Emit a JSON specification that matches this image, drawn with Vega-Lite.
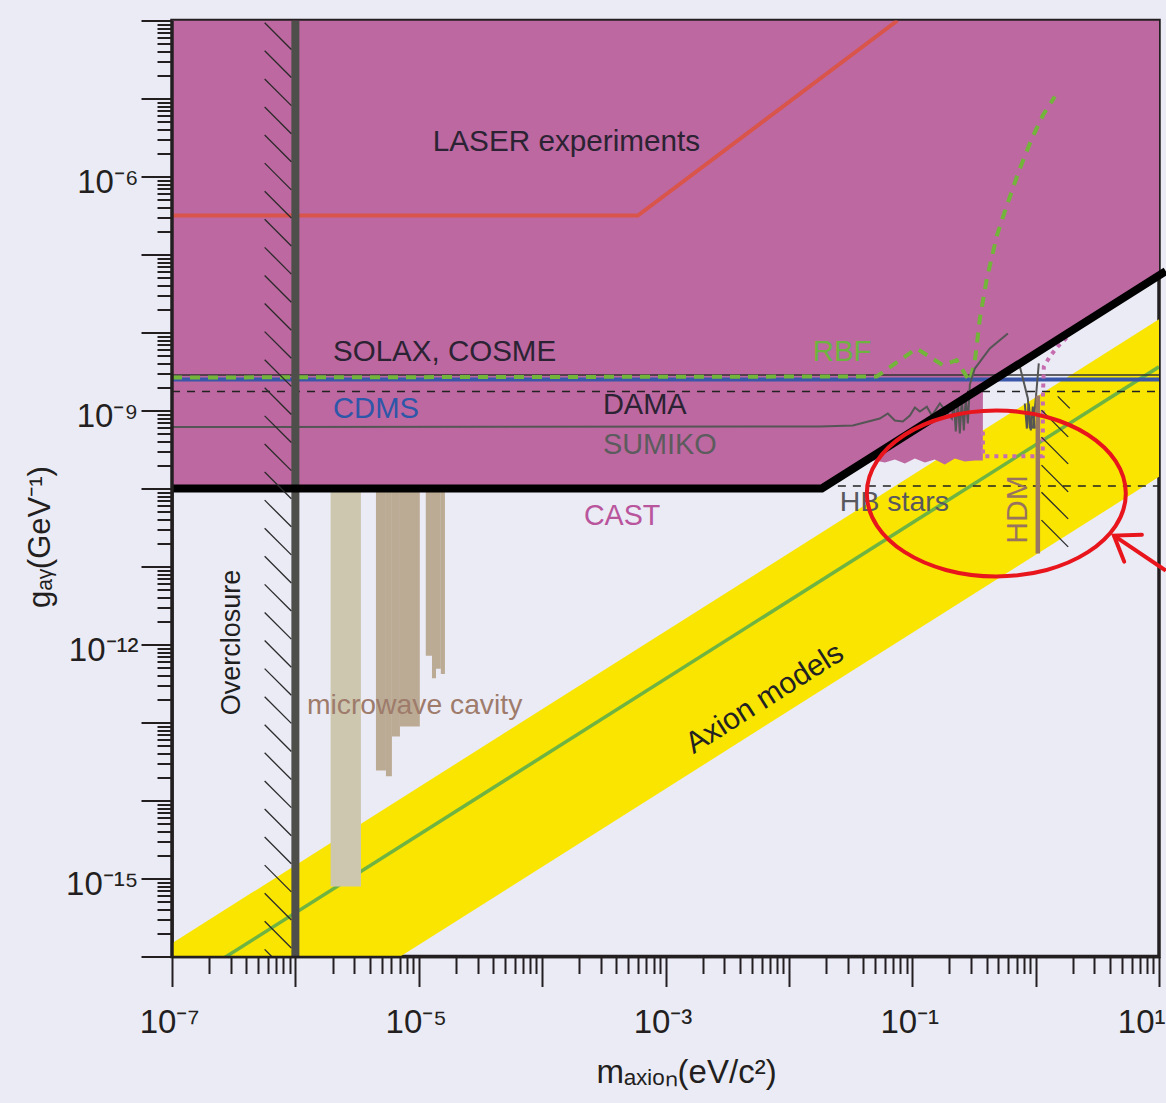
{
"$schema": "https://vega.github.io/schema/vega-lite/v6.json",
"width": 987, "height": 936,
"autosize": "none",
"padding": {"left": 172, "top": 20.5, "right": 7, "bottom": 146.5},
"background": "#ebebf6",
"config": {"view": {"stroke": "#231f20", "strokeWidth": 3.5, "fill": null}},
"resolve": {"axis": {"x": "independent", "y": "independent"}},
"layer": [
{"data": {"values": [{"m": 1e-7, "g": 1.48e-16, "g2": 1.41e-18}, {"m": 10, "g": 1.48e-8, "g2": 1.41e-10}]},
 "mark": {"type": "area", "color": "#f9e500", "clip": true, "opacity": 1},
 "encoding": {
  "x": {"field": "m", "type": "quantitative", "scale": {"type": "log", "domain": [1e-7, 10], "nice": false},
   "axis": {"orient": "bottom", "grid": false, "zindex": 1,
    "values": [1e-7,1e-6,1e-5,1e-4,0.001,0.01,0.1,1,10],
    "labelExpr": "datum.value == 1e-7 ? '10⁻⁷' : datum.value == 1e-5 ? '10⁻⁵' : datum.value == 0.001 ? '10⁻³' : datum.value == 0.1 ? '10⁻¹' : datum.value == 10 ? '10¹' : ''",
    "labelOverlap": false, "labelFlush": false, "labelBound": false,
    "labelAlign": {"condition": {"test": "datum.value == 10", "value": "right"}, "value": "center"},
    "labelOffset": {"condition": {"test": "datum.value == 10", "value": 6}, "value": -3},
    "tickSize": 30, "tickWidth": 2, "tickColor": "#231f20", "domain": true, "domainColor": "#231f20", "domainWidth": 2.5,
    "labelFont": "Liberation Sans", "labelFontSize": 33, "labelColor": "#231f20",
    "labelPadding": 20,
    "title": "mₐₓᵢₒₙ(eV/c²)", "titleFont": "Liberation Sans", "titleFontSize": 33,
    "titleFontWeight": "normal", "titleColor": "#231f20", "titleX": 514, "titleY": 116, "titleBaseline": "middle"}},
  "y": {"field": "g", "type": "quantitative", "scale": {"type": "log", "domain": [1e-16, 1e-4], "nice": false},
   "axis": {"orient": "left", "grid": false, "zindex": 1,
    "values": [1e-16,1e-15,1e-14,1e-13,1e-12,1e-11,1e-10,1e-9,1e-8,1e-7,1e-6,1e-5,1e-4],
    "labelExpr": "datum.value == 1e-6 ? '10⁻⁶' : datum.value == 1e-9 ? '10⁻⁹' : datum.value == 1e-12 ? '10⁻¹²' : datum.value == 1e-15 ? '10⁻¹⁵' : ''",
    "labelOverlap": false, "labelFlush": false, "labelBound": false,
    "tickSize": 31, "tickWidth": 2, "tickColor": "#231f20", "domain": true, "domainColor": "#231f20", "domainWidth": 2.5,
    "labelFont": "Liberation Sans", "labelFontSize": 33, "labelColor": "#231f20",
    "labelPadding": 3, "labelOffset": 6,
    "title": "gₐᵧ(GeV⁻¹)", "titleFont": "Liberation Sans", "titleFontSize": 31,
    "titleFontWeight": "normal", "titleColor": "#231f20", "titleX": -132, "titleY": 516, "titleBaseline": "middle", "titleAngle": 270}},
  "y2": {"field": "g2"}
 }},
{"data": {"values": [{"m": 1e-7, "g": 3.63e-17}, {"m": 10, "g": 3.63e-9}]},
 "mark": {"type": "line", "color": "#6fb343", "strokeWidth": 3.5, "clip": true},
 "encoding": {
  "x": {"field": "m", "type": "quantitative", "scale": {"type": "log"},
   "axis": {"orient": "bottom", "grid": false, "zindex": 1, "labels": false, "domain": false, "title": null,
    "values": [2e-7,3e-7,4e-7,5e-7,6e-7,7e-7,8e-7,9e-7,2e-6,3e-6,4e-6,5e-6,6e-6,7e-6,8e-6,9e-6,2e-5,3e-5,4e-5,5e-5,6e-5,7e-5,8e-5,9e-5,2e-4,3e-4,4e-4,5e-4,6e-4,7e-4,8e-4,9e-4,0.002,0.003,0.004,0.005,0.006,0.007,0.008,0.009,0.02,0.03,0.04,0.05,0.06,0.07,0.08,0.09,0.2,0.3,0.4,0.5,0.6,0.7,0.8,0.9,2,3,4,5,6,7,8,9],
    "tickSize": 17, "tickWidth": 2, "tickColor": "#231f20"}},
  "y": {"field": "g", "type": "quantitative", "scale": {"type": "log"},
   "axis": {"orient": "left", "grid": false, "zindex": 1, "labels": false, "domain": false, "title": null,
    "values": [2e-16,3e-16,4e-16,5e-16,6e-16,7e-16,8e-16,9e-16,2e-15,3e-15,4e-15,5e-15,6e-15,7e-15,8e-15,9e-15,2e-14,3e-14,4e-14,5e-14,6e-14,7e-14,8e-14,9e-14,2e-13,3e-13,4e-13,5e-13,6e-13,7e-13,8e-13,9e-13,2e-12,3e-12,4e-12,5e-12,6e-12,7e-12,8e-12,9e-12,2e-11,3e-11,4e-11,5e-11,6e-11,7e-11,8e-11,9e-11,2e-10,3e-10,4e-10,5e-10,6e-10,7e-10,8e-10,9e-10,2e-9,3e-9,4e-9,5e-9,6e-9,7e-9,8e-9,9e-9,2e-8,3e-8,4e-8,5e-8,6e-8,7e-8,8e-8,9e-8,2e-7,3e-7,4e-7,5e-7,6e-7,7e-7,8e-7,9e-7,2e-6,3e-6,4e-6,5e-6,6e-6,7e-6,8e-6,9e-6,2e-5,3e-5,4e-5,5e-5,6e-5,7e-5,8e-5,9e-5],
    "tickSize": 15, "tickWidth": 2, "tickColor": "#231f20"}}}},
{"data": {"values": [{"m": 1e-7, "g": 1e-10}, {"m": 0.0185, "g": 1e-10}, {"m": 0.0413, "g": 2.22e-10}, {"m": 0.0498, "g": 2.29e-10}, {"m": 0.06, "g": 2.15e-10}, {"m": 0.0723, "g": 2.35e-10}, {"m": 0.0871, "g": 2.09e-10}, {"m": 0.105, "g": 2.43e-10}, {"m": 0.1265, "g": 2.15e-10}, {"m": 0.1524, "g": 2.35e-10}, {"m": 0.1837, "g": 2.03e-10}, {"m": 0.2213, "g": 2.43e-10}, {"m": 0.2667, "g": 2.22e-10}, {"m": 0.3215, "g": 2.29e-10}, {"m": 0.3733, "g": 2.29e-10}, {"m": 0.374, "g": 2.0e-9}, {"m": 10, "g": 5.37e-8}]},
 "mark": {"type": "area", "color": "#bd68a0", "clip": true, "opacity": 1},
 "encoding": {"x": {"field": "m", "type": "quantitative", "scale": {"type": "log"}, "axis": null},
  "y": {"field": "g", "type": "quantitative", "scale": {"type": "log"}, "axis": null},
  "y2": {"datum": 1e-4}}},
{"data": {"values": [{"m": 1.93e-6, "m2": 3.4e-6, "g": 1e-10, "g2": 7.9e-16}]},
 "mark": {"type": "rect", "color": "#cdc7b0", "clip": true},
 "encoding": {"x": {"field": "m", "type": "quantitative", "scale": {"type": "log"}, "axis": null}, "x2": {"field": "m2"},
  "y": {"field": "g", "type": "quantitative", "scale": {"type": "log"}, "axis": null}, "y2": {"field": "g2"}}},
{"data": {"values": [{"m": 4.5e-6, "m2": 5.42e-6, "g": 1e-10, "g2": 2.43e-14}, {"m": 5.42e-6, "m2": 6.06e-6, "g": 1e-10, "g2": 2.04e-14}, {"m": 6.06e-6, "m2": 7.04e-6, "g": 1e-10, "g2": 6.6e-14}, {"m": 7.04e-6, "m2": 1.02e-5, "g": 1e-10, "g2": 8.9e-14}, {"m": 1.14e-5, "m2": 1.28e-5, "g": 1e-10, "g2": 7.2e-13}, {"m": 1.28e-5, "m2": 1.38e-5, "g": 1e-10, "g2": 3.7e-13}, {"m": 1.38e-5, "m2": 1.51e-5, "g": 1e-10, "g2": 4.9e-13}, {"m": 1.51e-5, "m2": 1.63e-5, "g": 1e-10, "g2": 4.2e-13}]},
 "mark": {"type": "rect", "color": "#bbab95", "clip": true},
 "encoding": {"x": {"field": "m", "type": "quantitative", "scale": {"type": "log"}, "axis": null}, "x2": {"field": "m2"},
  "y": {"field": "g", "type": "quantitative", "scale": {"type": "log"}, "axis": null}, "y2": {"field": "g2"}}},
{"data": {"values": [{"m": 1e-7, "g": 3.16e-7}, {"m": 5.97e-4, "g": 3.16e-7}, {"m": 0.076, "g": 1e-4}]},
 "mark": {"type": "line", "color": "#d9544b", "strokeWidth": 4, "clip": true},
 "encoding": {"x": {"field": "m", "type": "quantitative", "scale": {"type": "log"}, "axis": null},
  "y": {"field": "g", "type": "quantitative", "scale": {"type": "log"}, "axis": null}}},
{"data": {"values": [{"m": 1e-7, "g": 2.85e-9}, {"m": 10, "g": 2.85e-9}]},
 "mark": {"type": "line", "color": "#333333", "strokeWidth": 1.5, "clip": true},
 "encoding": {"x": {"field": "m", "type": "quantitative", "scale": {"type": "log"}, "axis": null},
  "y": {"field": "g", "type": "quantitative", "scale": {"type": "log"}, "axis": null}}},
{"data": {"values": [{"m": 1e-7, "g": 2.5e-9}, {"m": 10, "g": 2.5e-9}]},
 "mark": {"type": "line", "color": "#3a56a8", "strokeWidth": 4, "clip": true},
 "encoding": {"x": {"field": "m", "type": "quantitative", "scale": {"type": "log"}, "axis": null},
  "y": {"field": "g", "type": "quantitative", "scale": {"type": "log"}, "axis": null}}},
{"data": {"values": [{"s": "DAMA", "m": 1e-7, "g": 1.75e-9}, {"s": "DAMA", "m": 10, "g": 1.75e-9}, {"s": "HB", "m": 0.02495, "g": 1.08e-10}, {"s": "HB", "m": 10, "g": 1.08e-10}]},
 "mark": {"type": "line", "color": "#222222", "strokeWidth": 1.5, "strokeDash": [8, 7], "clip": true},
 "encoding": {"x": {"field": "m", "type": "quantitative", "scale": {"type": "log"}, "axis": null},
  "y": {"field": "g", "type": "quantitative", "scale": {"type": "log"}, "axis": null}, "detail": {"field": "s"}}},
{"data": {"values": [{"m": 1e-7, "g": 2.65e-9}, {"m": 0.0516, "g": 2.73e-9}, {"m": 0.1084, "g": 6.24e-9}, {"m": 0.177, "g": 3.81e-9}, {"m": 0.2286, "g": 4.42e-9}, {"m": 0.2754, "g": 2.73e-9}, {"m": 0.2931, "g": 2.36e-9}, {"m": 0.3215, "g": 4.25e-9}, {"m": 0.3532, "g": 1.51e-8}, {"m": 0.4024, "g": 4.92e-8}, {"m": 0.4853, "g": 1.754e-7}, {"m": 0.5843, "g": 4.25e-7}, {"m": 0.7447, "g": 1.268e-6}, {"m": 0.9316, "g": 3.07e-6}, {"m": 1.143, "g": 6.05e-6}, {"m": 1.431, "g": 1.062e-5}]},
 "mark": {"type": "line", "color": "#72b53a", "strokeWidth": 4, "strokeDash": [10, 8], "clip": true},
 "encoding": {"x": {"field": "m", "type": "quantitative", "scale": {"type": "log"}, "axis": null},
  "y": {"field": "g", "type": "quantitative", "scale": {"type": "log"}, "axis": null}}},
{"data": {"values": [
  {"s": "SUMIKO", "m": 1e-7, "g": 6.14e-10}, {"s": "SUMIKO", "m": 0.01782, "g": 6.24e-10}, {"s": "SUMIKO", "m": 0.03304, "g": 6.43e-10}, {"s": "SUMIKO", "m": 0.0546, "g": 7.89e-10}, {"s": "SUMIKO", "m": 0.0634, "g": 9.16e-10}, {"s": "SUMIKO", "m": 0.0723, "g": 7.44e-10}, {"s": "SUMIKO", "m": 0.0839, "g": 7.23e-10}, {"s": "SUMIKO", "m": 0.0957, "g": 8.63e-10}, {"s": "SUMIKO", "m": 0.105, "g": 1.09e-9}, {"s": "SUMIKO", "m": 0.1153, "g": 9.7e-10}, {"s": "SUMIKO", "m": 0.1313, "g": 1.12e-9}, {"s": "SUMIKO", "m": 0.1442, "g": 8.63e-10}, {"s": "SUMIKO", "m": 0.1675, "g": 1.23e-9}, {"s": "SUMIKO", "m": 0.2094, "g": 7.89e-10}, {"s": "SUMIKO", "m": 0.2173, "g": 1.3e-9}, {"s": "SUMIKO", "m": 0.2254, "g": 5.38e-10}, {"s": "SUMIKO", "m": 0.2342, "g": 1.34e-9}, {"s": "SUMIKO", "m": 0.243, "g": 5.07e-10}, {"s": "SUMIKO", "m": 0.2523, "g": 1.43e-9}, {"s": "SUMIKO", "m": 0.2618, "g": 5.54e-10}, {"s": "SUMIKO", "m": 0.2716, "g": 1.51e-9}, {"s": "SUMIKO", "m": 0.2823, "g": 6.81e-10}, {"s": "SUMIKO", "m": 0.2931, "g": 2.15e-9}, {"s": "SUMIKO", "m": 0.3215, "g": 3.45e-9}, {"s": "SUMIKO", "m": 0.4256, "g": 6.24e-9}, {"s": "SUMIKO", "m": 0.5957, "g": 9.7e-9},
  {"s": "A", "m": 0.7447, "g": 3.66e-9}, {"s": "A", "m": 0.865, "g": 1.43e-9}, {"s": "A", "m": 0.898, "g": 5.87e-10},
  {"s": "B", "m": 0.949, "g": 5.87e-10}, {"s": "B", "m": 1.004, "g": 1.43e-9}, {"s": "B", "m": 1.061, "g": 4.01e-9},
  {"s": "C", "m": 0.8166, "g": 1.23e-9}, {"s": "C", "m": 0.8494, "g": 5.87e-10}, {"s": "C", "m": 0.881, "g": 1.23e-9}, {"s": "C", "m": 0.914, "g": 5.54e-10}, {"s": "C", "m": 0.949, "g": 1.12e-9}, {"s": "C", "m": 0.9863, "g": 5.87e-10}]},
 "mark": {"type": "line", "color": "#555555", "strokeWidth": 2, "clip": true},
 "encoding": {"x": {"field": "m", "type": "quantitative", "scale": {"type": "log"}, "axis": null},
  "y": {"field": "g", "type": "quantitative", "scale": {"type": "log"}, "axis": null}, "detail": {"field": "s"}}},
{"data": {"values": [{"i": 0, "m": 0.3733, "g": 5.38e-10}, {"i": 1, "m": 0.3745, "g": 2.6e-10}, {"i": 2, "m": 1.004, "g": 2.6e-10}, {"i": 3, "m": 1.143, "g": 2.6e-10}, {"i": 4, "m": 1.145, "g": 1.43e-9}, {"i": 5, "m": 1.166, "g": 3.66e-9}, {"i": 6, "m": 1.303, "g": 4.92e-9}, {"i": 7, "m": 1.513, "g": 6.62e-9}, {"i": 8, "m": 1.824, "g": 8.89e-9}]},
 "mark": {"type": "line", "color": "#c66db0", "strokeWidth": 4, "strokeDash": [4, 5], "clip": true},
 "encoding": {"x": {"field": "m", "type": "quantitative", "scale": {"type": "log"}, "axis": null},
  "y": {"field": "g", "type": "quantitative", "scale": {"type": "log"}, "axis": null}, "order": {"field": "i"}}},
{"data": {"values": [{"m": 1e-6, "g": 1e-16, "g2": 1e-4}]},
 "mark": {"type": "rule", "color": "#4e4e4a", "strokeWidth": 8, "clip": true},
 "encoding": {"x": {"field": "m", "type": "quantitative", "scale": {"type": "log"}, "axis": null},
  "y": {"field": "g", "type": "quantitative", "scale": {"type": "log"}, "axis": null}, "y2": {"field": "g2"}}},
{"data": {"values": [{"m": 1e-7, "g": 1e-10}, {"m": 0.0185, "g": 1e-10}, {"m": 11.35, "g": 6.1e-8}]},
 "mark": {"type": "line", "color": "#000000", "strokeWidth": 8, "clip": false},
 "encoding": {"x": {"field": "m", "type": "quantitative", "scale": {"type": "log"}, "axis": null},
  "y": {"field": "g", "type": "quantitative", "scale": {"type": "log"}, "axis": null}}},
{"data": {"values": [{"m": 7.23e-7, "g": 6.31e-5}, {"m": 7.23e-7, "g": 2.754e-5}, {"m": 7.23e-7, "g": 1.202e-5}, {"m": 7.23e-7, "g": 5.248e-6}, {"m": 7.23e-7, "g": 2.291e-6}, {"m": 7.23e-7, "g": 1e-6}, {"m": 7.23e-7, "g": 4.365e-7}, {"m": 7.23e-7, "g": 1.905e-7}, {"m": 7.23e-7, "g": 8.318e-8}, {"m": 7.23e-7, "g": 3.631e-8}, {"m": 7.23e-7, "g": 1.585e-8}, {"m": 7.23e-7, "g": 6.918e-9}, {"m": 7.23e-7, "g": 3.02e-9}, {"m": 7.23e-7, "g": 1.318e-9}, {"m": 7.23e-7, "g": 5.754e-10}, {"m": 7.23e-7, "g": 2.512e-10}, {"m": 7.23e-7, "g": 1.096e-10}, {"m": 7.23e-7, "g": 4.786e-11}, {"m": 7.23e-7, "g": 2.089e-11}, {"m": 7.23e-7, "g": 9.12e-12}, {"m": 7.23e-7, "g": 3.981e-12}, {"m": 7.23e-7, "g": 1.738e-12}, {"m": 7.23e-7, "g": 7.586e-13}, {"m": 7.23e-7, "g": 3.311e-13}, {"m": 7.23e-7, "g": 1.445e-13}, {"m": 7.23e-7, "g": 6.31e-14}, {"m": 7.23e-7, "g": 2.754e-14}, {"m": 7.23e-7, "g": 1.202e-14}, {"m": 7.23e-7, "g": 5.248e-15}, {"m": 7.23e-7, "g": 2.291e-15}, {"m": 7.23e-7, "g": 1e-15}, {"m": 7.23e-7, "g": 4.365e-16}, {"m": 7.23e-7, "g": 1.905e-16}, {"m": 7.23e-7, "g": 8.318e-17}]},
 "mark": {"type": "point", "shape": "M -1 -1 L 1 1", "size": 713, "filled": false, "color": "#2a2a2a", "strokeWidth": 1.3, "opacity": 1, "clip": true},
 "encoding": {"x": {"field": "m", "type": "quantitative", "scale": {"type": "log"}, "axis": null},
  "y": {"field": "g", "type": "quantitative", "scale": {"type": "log"}, "axis": null}}},
{"data": {"values": [{"m": 1.042, "g": 1.56e-9, "g2": 1.47e-11}]},
 "mark": {"type": "rule", "color": "#9a7762", "strokeWidth": 4.5, "clip": true},
 "encoding": {"x": {"field": "m", "type": "quantitative", "scale": {"type": "log"}, "axis": null},
  "y": {"field": "g", "type": "quantitative", "scale": {"type": "log"}, "axis": null}, "y2": {"field": "g2"}}},
{"data": {"values": [{"m": 1.431, "g": 6.81e-10}, {"m": 1.431, "g": 3.07e-10}, {"m": 1.431, "g": 1.343e-10}, {"m": 1.431, "g": 6.05e-11}, {"m": 1.431, "g": 2.65e-11}]},
 "mark": {"type": "point", "shape": "M -1 -1 L 1 1", "size": 713, "filled": false, "color": "#2a2a2a", "strokeWidth": 1.3, "opacity": 1, "clip": true},
 "encoding": {"x": {"field": "m", "type": "quantitative", "scale": {"type": "log"}, "axis": null},
  "y": {"field": "g", "type": "quantitative", "scale": {"type": "log"}, "axis": null}}},
{"data": {"values": [{"m": 1.692, "g": 1.27e-9}]},
 "mark": {"type": "point", "shape": "M -1 -1 L 1 1", "size": 144, "filled": false, "color": "#2a2a2a", "strokeWidth": 1.3, "opacity": 1, "clip": true},
 "encoding": {"x": {"field": "m", "type": "quantitative", "scale": {"type": "log"}, "axis": null},
  "y": {"field": "g", "type": "quantitative", "scale": {"type": "log"}, "axis": null}}},
{"data": {"values": [{"m": 1.3e-5, "g": 2.81e-6, "label": "LASER experiments"}, {"m": 2.02e-6, "g": 5.55e-9, "label": "SOLAX, COSME"}, {"m": 0.01563, "g": 5.7e-9, "label": "RBF"}, {"m": 2.02e-6, "g": 1.06e-9, "label": "CDMS"}, {"m": 3.11e-4, "g": 1.19e-9, "label": "DAMA"}, {"m": 3.11e-4, "g": 3.66e-10, "label": "SUMIKO"}, {"m": 2.18e-4, "g": 4.38e-11, "label": "CAST"}, {"m": 0.02588, "g": 6.62e-11, "label": "HB stars"}, {"m": 1.24e-6, "g": 1.65e-13, "label": "microwave cavity"}]},
 "mark": {"type": "text", "align": "left", "baseline": "middle", "font": "Liberation Sans"},
 "encoding": {"x": {"field": "m", "type": "quantitative", "scale": {"type": "log"}, "axis": null},
  "y": {"field": "g", "type": "quantitative", "scale": {"type": "log"}, "axis": null},
  "text": {"field": "label"},
  "size": {"field": "label", "type": "nominal", "legend": null, "scale": {"domain": ["LASER experiments", "SOLAX, COSME", "RBF", "CDMS", "DAMA", "SUMIKO", "CAST", "HB stars", "microwave cavity"], "range": [29.7, 28.3, 28, 28.5, 29.6, 29, 28.2, 31, 30.6]}},
  "color": {"field": "label", "type": "nominal", "legend": null, "scale": {"domain": ["LASER experiments", "SOLAX, COSME", "RBF", "CDMS", "DAMA", "SUMIKO", "CAST", "HB stars", "microwave cavity"], "range": ["#2b2333", "#2b2333", "#6db33f", "#2d57a8", "#2b2333", "#5c5c5e", "#b9559c", "#58585e", "#9e7b6b"]}}}},
{"data": {"values": [{"m": 3.06e-7, "g": 1.06e-12, "label": "Overclosure"}]},
 "mark": {"type": "text", "align": "center", "baseline": "middle", "angle": 270, "color": "#1f1f1f", "font": "Liberation Sans", "fontSize": 27},
 "encoding": {"x": {"field": "m", "type": "quantitative", "scale": {"type": "log"}, "axis": null},
  "y": {"field": "g", "type": "quantitative", "scale": {"type": "log"}, "axis": null},
  "text": {"field": "label"}}},
{"data": {"values": [{"m": 0.7178, "g": 5.38e-11, "label": "HDM"}]},
 "mark": {"type": "text", "align": "center", "baseline": "middle", "angle": 270, "color": "#98745f", "font": "Liberation Sans", "fontSize": 30},
 "encoding": {"x": {"field": "m", "type": "quantitative", "scale": {"type": "log"}, "axis": null},
  "y": {"field": "g", "type": "quantitative", "scale": {"type": "log"}, "axis": null},
  "text": {"field": "label"}}},
{"data": {"values": [{"m": 6.38e-3, "g": 2.03e-13, "label": "Axion models"}]},
 "mark": {"type": "text", "align": "center", "baseline": "middle", "angle": 327.6, "color": "#222222", "font": "Liberation Sans", "fontSize": 30},
 "encoding": {"x": {"field": "m", "type": "quantitative", "scale": {"type": "log"}, "axis": null},
  "y": {"field": "g", "type": "quantitative", "scale": {"type": "log"}, "axis": null},
  "text": {"field": "label"}}},
{"data": {"values": [{"m": 0.4802, "g": 8.63e-11}]},
 "mark": {"type": "point", "shape": "M -1 0 C -1 -0.354 -0.552 -0.641 0 -0.641 C 0.552 -0.641 1 -0.354 1 0 C 1 0.354 0.552 0.641 0 0.641 C -0.552 0.641 -1 0.354 -1 0 Z", "size": 67081, "filled": false, "color": "#e8161c", "strokeWidth": 4, "opacity": 1, "clip": false},
 "encoding": {"x": {"field": "m", "type": "quantitative", "scale": {"type": "log"}, "axis": null},
  "y": {"field": "g", "type": "quantitative", "scale": {"type": "log"}, "axis": null}}},
{"data": {"values": [{"m": 11.35, "g": 8.89e-12}, {"m": 4.31, "g": 2.49e-11}]},
 "mark": {"type": "line", "color": "#e8161c", "strokeWidth": 4, "clip": false},
 "encoding": {"x": {"field": "m", "type": "quantitative", "scale": {"type": "log"}, "axis": null},
  "y": {"field": "g", "type": "quantitative", "scale": {"type": "log"}, "axis": null}}},
{"data": {"values": [{"m": 4.31, "g": 2.49e-11}]},
 "mark": {"type": "point", "shape": "M 0.819 -0.574 L 0 0 L 0.819 0.574", "size": 3136, "angle": 33.4, "filled": false, "color": "#e8161c", "strokeWidth": 4, "strokeCap": "round", "strokeJoin": "miter", "opacity": 1, "clip": false},
 "encoding": {"x": {"field": "m", "type": "quantitative", "scale": {"type": "log"}, "axis": null},
  "y": {"field": "g", "type": "quantitative", "scale": {"type": "log"}, "axis": null}}}
]
}
